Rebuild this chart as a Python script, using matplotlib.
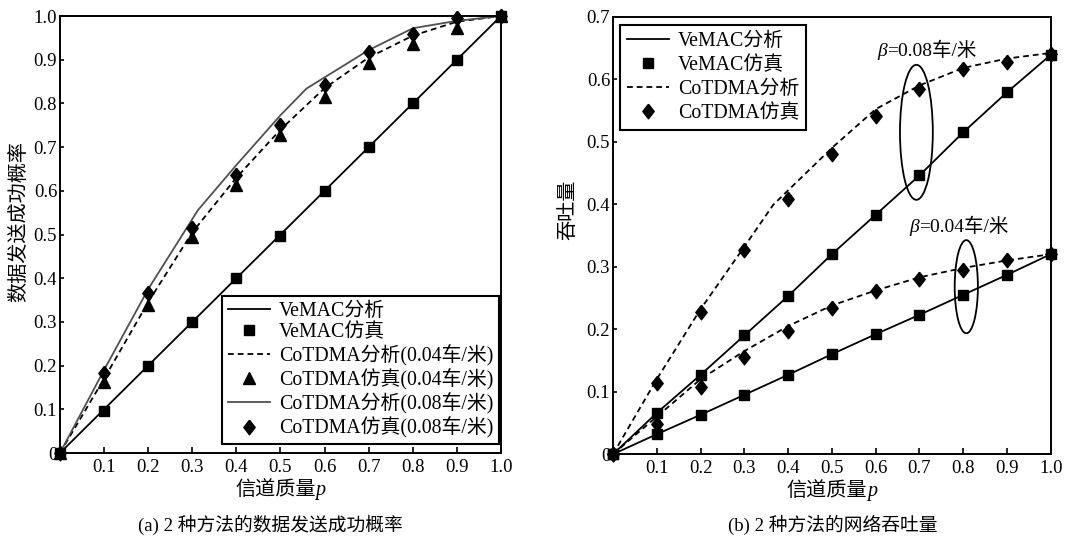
import numpy as np
import matplotlib.pyplot as plt
from matplotlib.patches import Ellipse
from matplotlib.lines import Line2D
from matplotlib.offsetbox import TextArea, HPacker, AnnotationBbox

plt.rcParams['font.family'] = ['Liberation Serif', 'Noto Sans CJK SC']

p = [0, 0.1, 0.2, 0.3, 0.4, 0.5, 0.6, 0.7, 0.8, 0.9, 1.0]
p_labels = ['', '0.1', '0.2', '0.3', '0.4', '0.5', '0.6', '0.7', '0.8', '0.9', '1.0']

# (a) 数据发送成功概率
vemac_ana = [0, 0.1, 0.2, 0.3, 0.4, 0.5, 0.6, 0.7, 0.8, 0.9, 1.0]
vemac_sim = [0, 0.095, 0.2, 0.3, 0.4, 0.497, 0.6, 0.7, 0.8, 0.9, 1.0]
cot04_ana = [0, 0.17, 0.345, 0.505, 0.63, 0.74, 0.835, 0.905, 0.955, 0.987, 1.0]
cot04_sim = [0, 0.163, 0.339, 0.495, 0.613, 0.728, 0.815, 0.892, 0.937, 0.972, 1.0]
p08 = [0, 0.1, 0.2, 0.313, 0.4, 0.5, 0.559, 0.7, 0.8, 0.9, 1.0]
cot08_ana = [0, 0.19, 0.375, 0.556, 0.659, 0.773, 0.834, 0.922, 0.972, 0.989, 1.0]
cot08_sim = [0, 0.182, 0.367, 0.514, 0.636, 0.751, 0.842, 0.918, 0.960, 0.995, 1.0]
succ_ticks = [0, 0.1, 0.2, 0.3, 0.4, 0.5, 0.6, 0.7, 0.8, 0.9, 1.0]
succ_labels = ['0', '0.1', '0.2', '0.3', '0.4', '0.5', '0.6', '0.7', '0.8', '0.9', '1.0']

# (b) 网络吞吐量
thr_vemac08 = [0, 0.066, 0.127, 0.19, 0.253, 0.32, 0.383, 0.446, 0.515, 0.579, 0.639]
thr_vemac04 = [0, 0.032, 0.063, 0.095, 0.127, 0.16, 0.192, 0.223, 0.255, 0.287, 0.32]
p_thr08 = [0, 0.1, 0.2, 0.3, 0.366, 0.5, 0.6, 0.7, 0.8, 0.9, 1.0]
thr_cot08_ana = [0, 0.12, 0.232, 0.332, 0.399, 0.49, 0.552, 0.59, 0.618, 0.633, 0.642]
thr_cot08_sim = [0, 0.114, 0.228, 0.327, 0.409, 0.481, 0.541, 0.585, 0.616, 0.628, 0.641]
thr_cot04_ana = [0, 0.06, 0.12, 0.165, 0.205, 0.238, 0.262, 0.283, 0.298, 0.31, 0.32]
thr_cot04_sim = [0, 0.049, 0.107, 0.156, 0.197, 0.234, 0.261, 0.281, 0.295, 0.311, 0.32]
thr_ticks = [0, 0.1, 0.2, 0.3, 0.4, 0.5, 0.6, 0.7]
thr_labels = ['0', '0.1', '0.2', '0.3', '0.4', '0.5', '0.6', '0.7']

dash = (0, (3.2, 2.2))
fs = 13.5
lfs = 14.3
# 略高于宽的菱形
diamond = [(0, 1), (0.78, 0), (0, -1), (-0.78, 0), (0, 1)]
sq = dict(ls='none', marker='s', ms=7.5, color='black')
tri = dict(ls='none', marker='^', ms=8, color='black')
dia = dict(ls='none', marker=diamond, ms=10.5, color='black')


def mixed_label(ax, parts, xy, coords, size):
    # 中文与斜体字母拼成一行
    boxes = [TextArea(t, textprops=dict(fontsize=size, fontstyle=st)) for t, st in parts]
    pack = HPacker(children=boxes, align='baseline', pad=0, sep=0)
    ab = AnnotationBbox(pack, xy, xycoords=coords, frameon=False,
                        box_alignment=(0.5, 0.5), annotation_clip=False)
    ax.add_artist(ab)


def style_axes(ax, ymax, yticks, ylabels):
    ax.set_xlim(0, 1.0)
    ax.set_ylim(0, ymax)
    ax.set_xticks(p)
    ax.set_xticklabels(p_labels, fontsize=fs)
    ax.set_yticks(yticks)
    ax.set_yticklabels(ylabels, fontsize=fs)
    ax.tick_params(axis='x', direction='in', length=4, width=1.2, pad=4)
    ax.tick_params(axis='y', direction='in', length=3, width=1.2, pad=2)
    for s in ax.spines.values():
        s.set_linewidth(1.4)
    mixed_label(ax, [('信道质量', 'normal'), ('p', 'italic')], (0.5, -0.085),
                'axes fraction', 14.5)


def legend_box(leg):
    fr = leg.get_frame()
    fr.set_edgecolor('black')
    fr.set_linewidth(1.5)
    fr.set_boxstyle('square', pad=0)


fig = plt.figure(figsize=(10.73, 5.45), dpi=100)
ax1 = fig.add_axes([0.0559, 0.1688, 0.411, 0.8018])
ax2 = fig.add_axes([0.5713, 0.1666, 0.408, 0.8028])

# 左图
ax1.plot(p, vemac_ana, color='black', lw=1.3)
ax1.plot(p, vemac_sim, clip_on=False, **sq)
ax1.plot(p, cot04_ana, color='black', lw=1.3, ls=dash)
ax1.plot(p, cot04_sim, clip_on=False, **tri)
ax1.plot(p08, cot08_ana, color='#505050', lw=1.3)
ax1.plot(p, cot08_sim, clip_on=False, **dia)
style_axes(ax1, 1.0, succ_ticks, succ_labels)
ax1.set_ylabel('数据发送成功概率', fontsize=14.5)
ax1.yaxis.set_label_coords(-0.07, 0.529)

h1 = [Line2D([], [], color='black', lw=1.3), Line2D([], [], **sq),
      Line2D([], [], color='black', lw=1.3, ls=dash), Line2D([], [], **tri),
      Line2D([], [], color='#505050', lw=1.3), Line2D([], [], **dia)]
l1 = ['VeMAC分析', 'VeMAC仿真', 'CoTDMA分析(0.04车/米)', 'CoTDMA仿真(0.04车/米)',
      'CoTDMA分析(0.08车/米)', 'CoTDMA仿真(0.08车/米)']
leg1 = ax1.legend(h1, l1, loc='lower right', bbox_to_anchor=(1.0, 0.015),
                  fontsize=lfs, handlelength=2.1, handletextpad=0.45,
                  labelspacing=0.13, borderpad=0.3, borderaxespad=0.1,
                  fancybox=False, framealpha=1, numpoints=1)
legend_box(leg1)

# 右图
ax2.plot(p, thr_vemac08, color='black', lw=1.3)
ax2.plot(p, thr_vemac04, color='black', lw=1.3)
ax2.plot(p, thr_vemac08, clip_on=False, **sq)
ax2.plot(p, thr_vemac04, clip_on=False, **sq)
ax2.plot(p_thr08, thr_cot08_ana, color='black', lw=1.3, ls=dash)
ax2.plot(p, thr_cot04_ana, color='black', lw=1.3, ls=dash)
ax2.plot(p, thr_cot08_sim, clip_on=False, **dia)
ax2.plot(p, thr_cot04_sim, clip_on=False, **dia)
style_axes(ax2, 0.7, thr_ticks, thr_labels)
ax2.set_ylabel('吞吐量', fontsize=14.5)
ax2.yaxis.set_label_coords(-0.08, 0.558)

ax2.add_patch(Ellipse((0.693, 0.515), 0.075, 0.216, fill=False, lw=1.3, color='black'))
ax2.add_patch(Ellipse((0.807, 0.268), 0.053, 0.149, fill=False, lw=1.3, color='black'))
mixed_label(ax2, [('β', 'italic'), ('=0.08车/米', 'normal')], (0.716, 0.646), 'data', 14)
mixed_label(ax2, [('β', 'italic'), ('=0.04车/米', 'normal')], (0.79, 0.364), 'data', 14)

h2 = [Line2D([], [], color='black', lw=1.3), Line2D([], [], **sq),
      Line2D([], [], color='black', lw=1.3, ls=dash), Line2D([], [], **dia)]
l2 = ['VeMAC分析', 'VeMAC仿真', 'CoTDMA分析', 'CoTDMA仿真']
leg2 = ax2.legend(h2, l2, loc='upper left', bbox_to_anchor=(0.012, 0.985),
                  fontsize=lfs, handlelength=2.1, handletextpad=0.45,
                  labelspacing=0.25, borderpad=0.35, borderaxespad=0.1,
                  fancybox=False, framealpha=1, numpoints=1)
legend_box(leg2)

fig.text(0.252, 0.037, '(a) 2 种方法的数据发送成功概率', ha='center', va='center', fontsize=13.5)
fig.text(0.776, 0.037, '(b) 2 种方法的网络吞吐量', ha='center', va='center', fontsize=13.5)

fig.savefig('out.png', dpi=100)
